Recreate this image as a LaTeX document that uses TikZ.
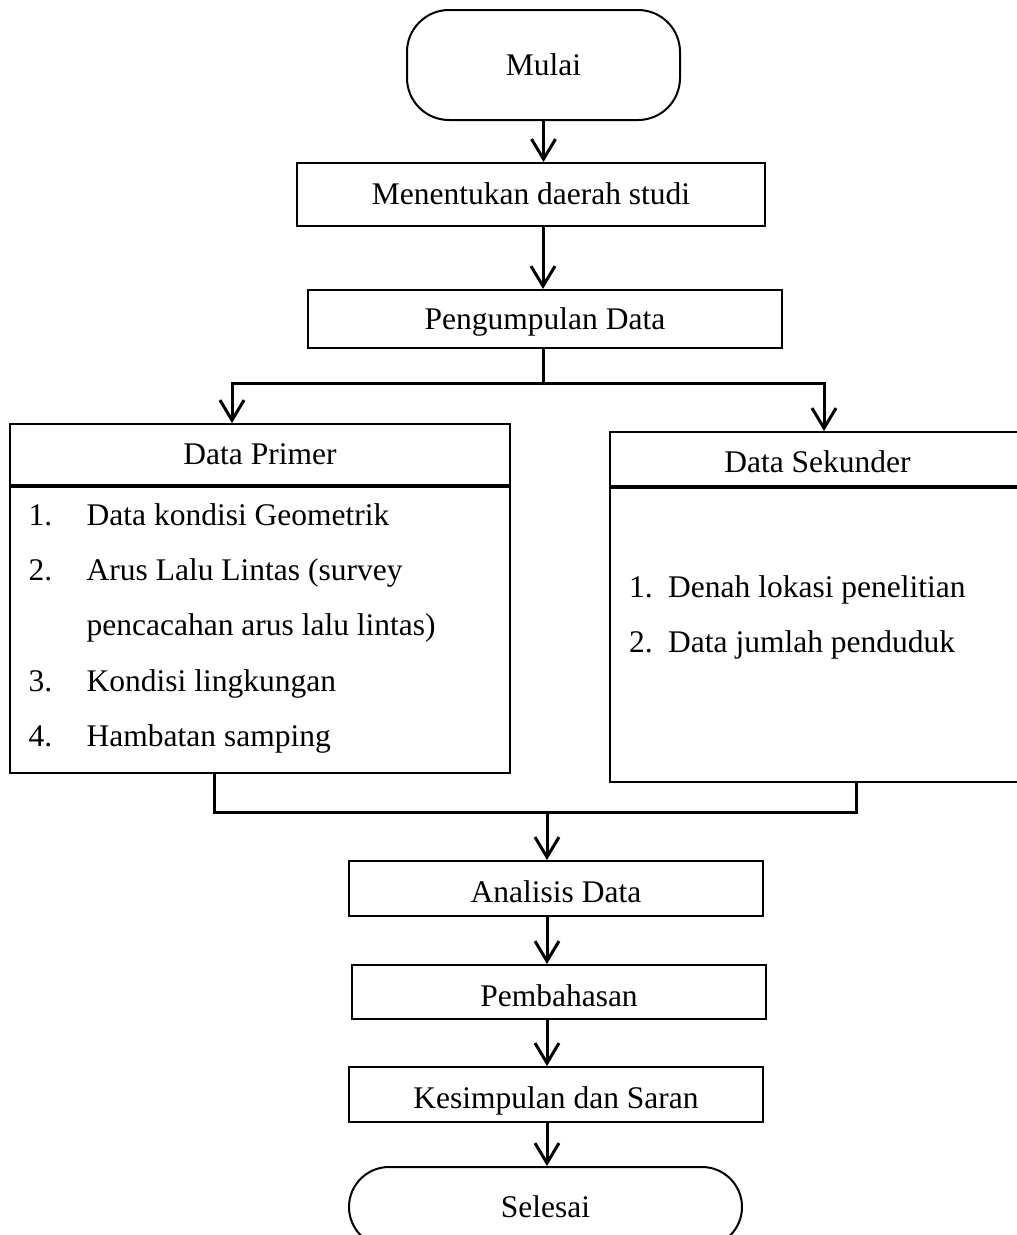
\documentclass[tikz,border=0pt]{standalone}
\usepackage{fontspec}
\setmainfont{Liberation Serif}
\usetikzlibrary{shapes,arrows.meta,positioning,calc}

\begin{document}
\begin{tikzpicture}[
    x=1pt, y=-1pt,
    font=\fontsize{31.5}{38}\selectfont,
    box/.style={rectangle, draw, line width=2pt, inner sep=0pt, text height=24pt, text depth=4pt},
    lowbox/.style={box, text height=29pt, text depth=1pt},
    term/.style={box, rounded corners=42pt},
    item/.style={anchor=base west, inner sep=0pt},
    arrow/.style={-{Straight Barb[length=20pt,width=24pt]}, line width=3pt},
    line/.style={line width=3pt}
]
\useasboundingbox (0,0) rectangle (1017,1235);

% Start
\node[term, minimum width=273pt, minimum height=110pt] (mulai) at (543.5,65) {Mulai};

% Steps
\node[box, minimum width=468pt, minimum height=63pt] (daerah) at (531,194.5) {Menentukan daerah studi};
\node[box, minimum width=474pt, minimum height=58pt] (kumpul) at (545,319) {Pengumpulan Data};

% Data boxes
\node[box, minimum width=500pt, minimum height=61pt] (prihead) at (260,454.5) {Data Primer};
\node[box, minimum width=500pt, minimum height=286pt, anchor=north] (pribody) at (prihead.south) {};
\node[box, text height=27pt, text depth=1pt, minimum width=415pt, minimum height=54pt] (sekhead) at (817.5,459) {Data Sekunder};
\node[box, minimum width=415pt, minimum height=294pt, anchor=north] (sekbody) at (sekhead.south) {};

% Lists
\node[item] (pri1) at (28.5,525) {\makebox[58pt][l]{1.}Data kondisi Geometrik};
\node[item] (pri2) at (28.5,580) {\makebox[58pt][l]{2.}Arus Lalu Lintas (survey};
\node[item] (pri2b) at (86.5,635) {pencacahan arus lalu lintas)};
\node[item] (pri3) at (28.5,691) {\makebox[58pt][l]{3.}Kondisi lingkungan};
\node[item] (pri4) at (28.5,746) {\makebox[58pt][l]{4.}Hambatan samping};
\node[item] (sek1) at (629,597) {\makebox[39pt][l]{1.}Denah lokasi penelitian};
\node[item] (sek2) at (629,652) {\makebox[39pt][l]{2.}Data jumlah penduduk};

% Lower steps
\node[lowbox, minimum width=414pt, minimum height=55pt] (analisis) at (556,888.5) {Analisis Data};
\node[lowbox, minimum width=414pt, minimum height=54pt] (bahas) at (559,992) {Pembahasan};
\node[lowbox, minimum width=414pt, minimum height=55pt] (simpul) at (556,1094.5) {Kesimpulan dan Saran};
\node[box, rounded corners=40pt, minimum width=393pt, minimum height=80pt] (selesai) at (545.5,1207) {Selesai};

% Junctions
\coordinate (split) at (543,383);
\coordinate (splitL) at (232,383);
\coordinate (splitR) at (824,383);
\coordinate (merge) at (547,812);
\coordinate (mergeL) at (214,812);
\coordinate (mergeR) at (856,812);

% Arrows
\draw[arrow] (mulai.south) -- (mulai.south |- daerah.north);
\draw[arrow] (daerah.south -| split) -- (kumpul.north -| split);
\draw[line] (kumpul.south -| split) -- (split);
\draw[arrow] (split) -- (splitL) -- (splitL |- prihead.north);
\draw[arrow] (split) -- (splitR) -- (splitR |- sekhead.north);
\draw[line] (mergeL |- pribody.south) -- (mergeL) -- (mergeR) -- (mergeR |- sekbody.south);
\draw[arrow] (merge) -- (merge |- analisis.north);
\draw[arrow] (analisis.south -| merge) -- (bahas.north -| merge);
\draw[arrow] (bahas.south -| merge) -- (simpul.north -| merge);
\draw[arrow] (simpul.south -| merge) -- (selesai.north -| merge);

\end{tikzpicture}
\end{document}
